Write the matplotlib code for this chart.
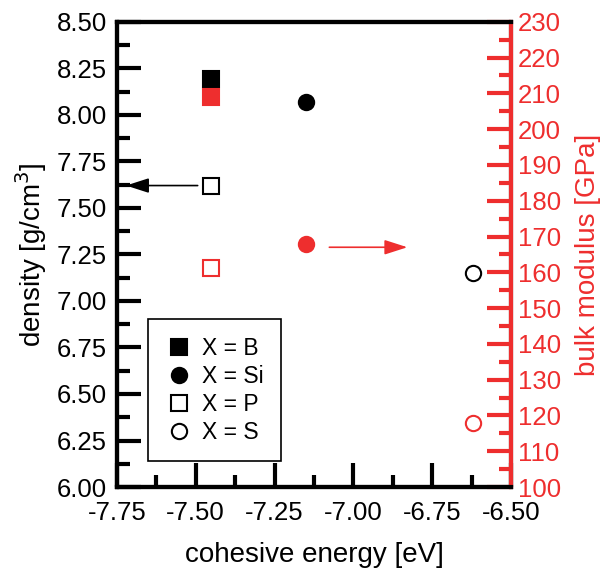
import matplotlib
matplotlib.use("Agg")
import matplotlib.pyplot as plt
from matplotlib.ticker import MultipleLocator, FormatStrFormatter

plt.rcParams['font.family'] = ['Liberation Sans', 'DejaVu Sans']

RED = '#ee2e2e'

elements = ['B', 'Si', 'P', 'S']
cohesive = [-7.45, -7.15, -7.45, -6.62]
density = [8.19, 8.07, 7.62, 7.15]
bulk = [209.0, 168.0, 161.3, 117.8]
markers = ['s', 'o', 's', 'o']
filled = [True, True, False, False]

fig = plt.figure(figsize=(6.12, 5.73), dpi=100)
ax = fig.add_axes([0.191, 0.150, 0.644, 0.812])
ax2 = ax.twinx()

for x, d, b, m, f, el in zip(cohesive, density, bulk, markers, filled, elements):
    ax.plot(x, d, m, ms=11, mew=1.5, mec='black',
            mfc='black' if f else 'white', label='X = ' + el, zorder=5)
    ax2.plot(x, b, m, ms=11, mew=1.5, mec=RED,
             mfc=RED if f else 'white', zorder=5)

ax.set_xlim(-7.75, -6.50)
ax.set_ylim(6.0, 8.5)
ax2.set_ylim(100, 230)

ax.xaxis.set_major_locator(MultipleLocator(0.25))
ax.xaxis.set_minor_locator(MultipleLocator(0.125))
ax.yaxis.set_major_locator(MultipleLocator(0.25))
ax.yaxis.set_minor_locator(MultipleLocator(0.125))
ax.xaxis.set_major_formatter(FormatStrFormatter('%.2f'))
ax.yaxis.set_major_formatter(FormatStrFormatter('%.2f'))
ax2.yaxis.set_major_locator(MultipleLocator(10))
ax2.yaxis.set_minor_locator(MultipleLocator(5))

for a in (ax, ax2):
    for s in a.spines.values():
        s.set_linewidth(3)
ax.tick_params(which='major', direction='in', length=17, width=3, labelsize=18.5, pad=7)
ax.tick_params(axis='x', pad=10)
ax.tick_params(which='minor', direction='in', length=9, width=3)
ax.tick_params(top=False, right=False, which='both')
ax2.spines['right'].set_color(RED)
ax2.tick_params(which='major', direction='in', length=17, width=3, labelsize=18.5,
                color=RED, labelcolor=RED, pad=5)
ax2.tick_params(which='minor', direction='in', length=9, width=3, color=RED)

ax.set_xlabel('cohesive energy [eV]', fontsize=20, labelpad=12)
ax.set_ylabel('density [g/cm$^3$]', fontsize=20, labelpad=6)
ax2.set_ylabel('bulk modulus [GPa]', fontsize=20, color=RED, labelpad=10)

# arrows pointing to the axis each series belongs to
ax.annotate('', xy=(-7.73, 7.62), xytext=(-7.485, 7.62),
            arrowprops=dict(arrowstyle='-|>,head_length=1.4,head_width=0.45',
                            color='black', lw=1.2), zorder=6)
ax2.annotate('', xy=(-6.82, 167.0), xytext=(-7.085, 167.0),
             arrowprops=dict(arrowstyle='-|>,head_length=1.4,head_width=0.45',
                             color=RED, lw=1.2), zorder=6)

leg = ax.legend(loc='lower left', bbox_to_anchor=(0.079, 0.056), borderaxespad=0,
                fontsize=16.5, frameon=True, fancybox=False, edgecolor='black',
                framealpha=1, handletextpad=0.4, borderpad=0.75, labelspacing=0.22,
                handlelength=1.2)
leg.get_frame().set_linewidth(1.2)
for h in leg.legend_handles:
    h.set_markersize(11)

fig.savefig('out.png', dpi=100)
